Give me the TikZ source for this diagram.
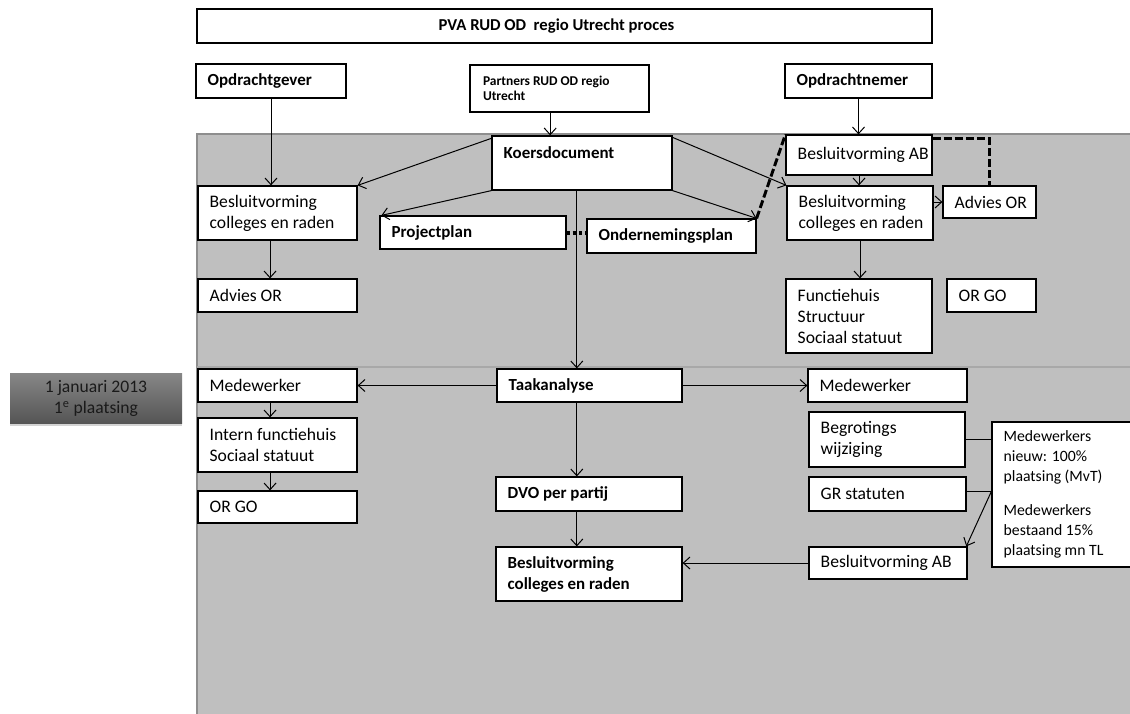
\documentclass[tikz,border=0pt]{standalone}
\usepackage{fontspec}
\setmainfont{Carlito}
\usetikzlibrary{arrows.meta,calc,shadows}
\definecolor{bggray}{HTML}{BFBFBF}
\definecolor{bgedge}{HTML}{8E8E8E}
\definecolor{bgsep}{HTML}{A8A8A8}
\definecolor{jantop}{HTML}{878787}
\definecolor{janbot}{HTML}{555555}
\definecolor{jantext}{HTML}{1A1A1A}
\newcommand\fnt{\fontsize{13.2}{15.75}\selectfont}
\newcommand\fntb{\fontsize{12.7}{15.75}\selectfont\bfseries}
% #1 text options, #2 name, #3-#6 corners (px), #7 text
\newcommand\bxnode[7][]{%
  \pgfmathsetmacro\bxw{(#5-#3)*0.75}%
  \pgfmathsetmacro\bxh{(#6-#4)*0.75}%
  \node[bx,minimum width=\bxw pt,minimum height=\bxh pt] (#2) at ({(#3+#5)/2},{(#4+#6)/2}) {};
  \node[txt,#1] (#2t) at ([xshift=9pt]#2.west) {#7};}
\tikzset{
  bx/.style={draw=black, fill=white, line width=0.9pt, inner sep=0pt},
  txt/.style={anchor=west, inner sep=0pt, align=left, font=\fnt},
  bfx/.style={font=\fntb},
  arr/.style={-{Straight Barb[length=5pt,width=9pt]}, line width=0.75pt},
  ln/.style={line width=0.75pt},
  dsh/.style={line width=2.2pt, dash pattern=on 6pt off 2.3pt},
  dts/.style={line width=2.4pt, dash pattern=on 2.4pt off 2.2pt},
  jan/.style={top color=jantop, bottom color=janbot, draw=none, text=jantext, align=center, font=\fnt, drop shadow={shadow xshift=0pt, shadow yshift=-2.5pt, opacity=0.35}, minimum width=129pt, minimum height=37.5pt, inner sep=0pt}
}
\begin{document}
\begin{tikzpicture}[x=0.75pt,y=-0.75pt]
\useasboundingbox (0,0) rectangle (1130,713);
\clip (0,0) rectangle (1130,713);
% gray regions
\fill[bggray] (197,134) rectangle (1140,367);
\fill[bggray] (197,367) rectangle (1140,720);
\draw[bgedge, line width=1.2pt] (197,720) -- (197,134) -- (1140,134);
\draw[bgsep, line width=1.2pt] (197,367) -- (1140,367);

% boxes
\node[bx,minimum width=551.25pt,minimum height=25.5pt] (title) at (564.5,26) {};
\node[inner sep=0pt,font=\fontsize{12.5}{15}\selectfont\bfseries,xshift=-6pt] (titlet) at (title.center) {PVA RUD OD\ \ regio Utrecht proces};
\bxnode[bfx]{opg}{196}{64}{346}{98}{Opdrachtgever}
\bxnode[font=\fontsize{10.1}{11.5}\selectfont\bfseries,xshift=1pt]{partners}{470}{65}{649}{112}{Partners RUD OD regio\\Utrecht}
\bxnode[bfx]{opn}{785}{64}{932}{98}{Opdrachtnemer}
\bxnode[bfx,yshift=7.5pt]{koers}{492}{136}{672}{190}{Koersdocument}
\bxnode{lbcr}{198}{186}{357}{240}{Besluitvorming\\colleges en raden}
\bxnode{ladv}{198}{279}{357}{312}{Advies OR}
\bxnode[bfx]{proj}{380}{216}{566}{249}{Projectplan}
\bxnode[bfx]{onder}{587}{219}{756}{253}{Ondernemingsplan}
\bxnode{rab}{786}{135}{932}{175}{Besluitvorming AB}
\bxnode{rbcr}{787}{186}{933}{240}{Besluitvorming\\colleges en raden}
\bxnode{radv}{943}{186}{1036}{218}{Advies OR}
\bxnode{func}{786}{279}{932}{353}{Functiehuis\\Structuur\\Sociaal statuut}
\bxnode{rorgo}{947}{279}{1036}{312}{OR GO}
\bxnode[bfx]{taak}{497}{369}{682}{402}{Taakanalyse}
\bxnode{lmed}{198}{369}{357}{402}{Medewerker}
\bxnode{rmed}{808}{369}{967}{402}{Medewerker}
\bxnode{intern}{198}{418}{357}{472}{Intern functiehuis\\Sociaal statuut}
\bxnode{lorgo}{198}{491}{357}{523}{OR GO}
\bxnode[bfx]{dvo}{496}{477}{682}{511}{DVO per partij}
\bxnode[bfx]{bbcr}{496}{547}{682}{601}{Besluitvorming\\colleges en raden}
\bxnode{begr}{809}{412}{965}{467}{Begrotings\\wijziging}
\bxnode{gr}{809}{477}{966}{511}{GR statuten}
\bxnode{bab}{809}{547}{967}{579}{Besluitvorming AB}
\bxnode[font=\fontsize{11.8}{15}\selectfont]{mdw}{992}{422}{1160}{567}{Medewerkers\\nieuw: 100\%\\plaatsing (MvT)\\[10pt]Medewerkers\\bestaand 15\%\\plaatsing mn TL}
\node[jan] (janbox) at (96,398) {1 januari 2013\\1\textsuperscript{e} plaatsing};

% connectors
\coordinate (pc) at ([xshift=-7pt]partners.south);
\coordinate (kd) at ([xshift=-3.9pt]koers.south);
\draw[arr] (opg.south) -- (opg.south |- lbcr.north);
\draw[arr] (pc) -- (pc |- koers.north);
\draw[arr] (opn.south) -- (opn.south |- rab.north);
\draw[arr] ([yshift=-2.2pt]koers.north west) -- (lbcr.north east);
\draw[arr] (koers.south west) -- ([xshift=1.5pt]proj.north west);
\draw[arr] (koers.south east) -- (onder.north east);
\draw[arr] ([yshift=-1.5pt]koers.north east) -- (rbcr.north west);
\draw[arr] (rab.south) -- (rab.south |- rbcr.north);
\draw[arr] (radv.west -| rbcr.east) -- (radv.west);
\draw[arr] ([xshift=-5.6pt]lbcr.south) -- ([xshift=-5.6pt]ladv.north);
\draw[arr] (rbcr.south) -- (rbcr.south |- func.north);
\draw[arr] (kd) -- (kd |- taak.north);
\draw[arr] (taak.west) -- (lmed.east);
\draw[arr] (taak.east) -- (rmed.west);
\draw[arr] ([xshift=-5.6pt]lmed.south) -- ([xshift=-5.6pt]intern.north);
\draw[arr] ([xshift=-5.6pt]intern.south) -- ([xshift=-5.6pt]lorgo.north);
\draw[arr] (kd |- taak.south) -- (kd |- dvo.north);
\draw[arr] (kd |- dvo.south) -- (kd |- bbcr.north);
\draw[arr] (bab.west) -- (bab.west -| bbcr.east);
\draw[ln] (begr.east) -- (begr.east -| mdw.west);
\draw[ln] ([yshift=2pt]gr.east) -- ([yshift=2pt]gr.east -| mdw.west);
\draw[arr] ([yshift=2pt]gr.east -| mdw.west) -- ([xshift=-1pt]bab.north east);
\draw[dsh] (onder.north east) -- (rab.north west);
\draw[dsh] ([yshift=-3pt]rab.north east) -| (radv.north);
\draw[dts] (proj.east |- 0,233) -- (onder.west |- 0,233);
\end{tikzpicture}
\end{document}
